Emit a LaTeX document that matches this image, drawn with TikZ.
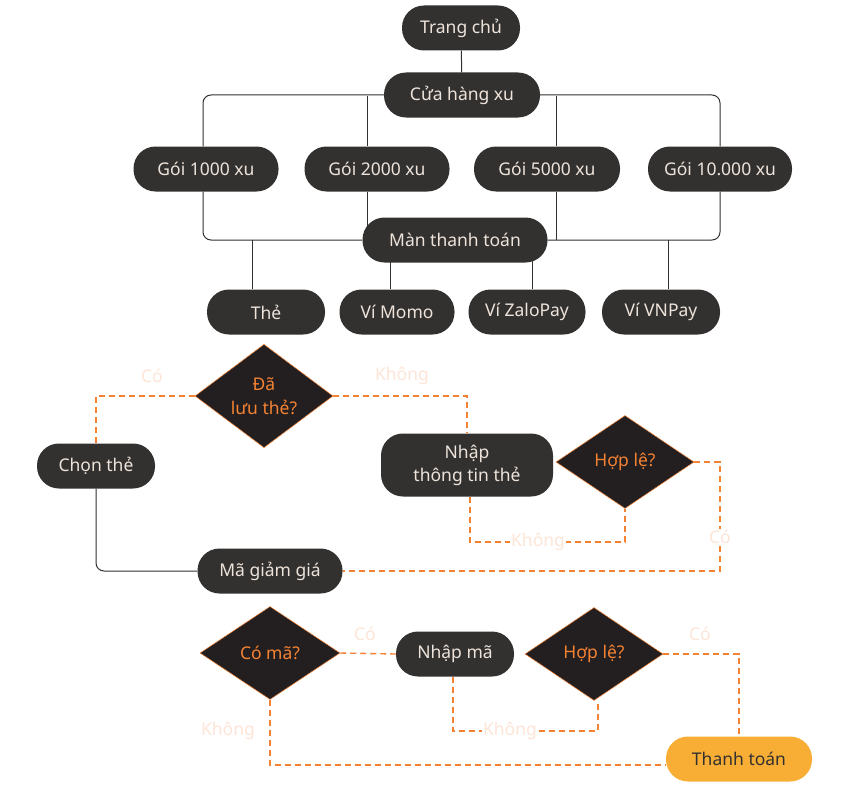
\documentclass[tikz,border=0pt]{standalone}
\usepackage{fontspec}
\setmainfont{Noto Sans}
\usetikzlibrary{shapes.geometric,backgrounds}
\definecolor{nodegray}{HTML}{333130}
\definecolor{diamfill}{HTML}{231F20}
\definecolor{textbeige}{HTML}{EDE3DA}
\definecolor{dashorange}{HTML}{F58233}
\definecolor{labelpeach}{HTML}{FDE5D8}
\definecolor{payyellow}{HTML}{F8AE35}
\begin{document}
\begin{tikzpicture}[x=1pt,y=-1pt,
  box/.style={rectangle,rounded corners=22pt,fill=nodegray,text=textbeige,
    minimum height=45pt,inner sep=0pt,align=center,font=\fontsize{17.5}{23}\selectfont},
  ask/.style={diamond,draw=dashorange,line width=0.5pt,fill=diamfill,text=dashorange,
    minimum width=138pt,minimum height=93pt,inner sep=0pt,align=center,font=\fontsize{17.5}{24}\selectfont},
  ans/.style={text=labelpeach,inner sep=1pt,font=\fontsize{17.5}{20}\selectfont},
  wire/.style={draw=nodegray,line width=1pt,rounded corners=8pt},
  choice/.style={draw=dashorange,line width=1.4pt,dash pattern=on 6pt off 4pt}]
\useasboundingbox (0,0) rectangle (850,789);
% top part
\node[box,minimum width=118pt] (trangchu) at (461,28) {Trang chủ};
\node[box,minimum width=156pt] (cuahang) at (462,95) {Cửa hàng xu};
\node[box,minimum width=145pt] (goi1) at (206,169) {Gói 1000 xu};
\node[box,minimum width=145pt] (goi2) at (377,169) {Gói 2000 xu};
\node[box,minimum width=146pt] (goi3) at (547,169) {Gói 5000 xu};
\node[box,minimum width=144pt] (goi4) at (720,169) {Gói 10.000 xu};
\node[box,minimum width=185pt] (manthanhtoan) at (455,240) {Màn thanh toán};
\node[box,minimum width=118pt] (the) at (266,312) {Thẻ};
\node[box,minimum width=115pt] (momo) at (397,312) {Ví Momo};
\node[box,minimum width=117pt] (zalo) at (527,312) {Ví ZaloPay};
\node[box,minimum width=118pt] (vnpay) at (661,312) {Ví VNPay};
% card part
\node[ask,minimum height=100pt] (daluu) at (264,396) {Đã\\lưu thẻ?};
\node[box,minimum width=118pt] (chonthe) at (96,466) {Chọn thẻ};
\node[box,minimum width=172pt,minimum height=63pt] (nhaptt) at (467,465) {Nhập\\thông tin thẻ};
\node[ask] (hople1) at (625,462) {Hợp lệ?};
\node[box,minimum width=145pt] (magiam) at (270,571) {Mã giảm giá};
% discount part
\node[ask,minimum width=140pt] (coma) at (270,653) {Có mã?};
\node[box,minimum width=118pt] (nhapma) at (455,654) {Nhập mã};
\node[ask] (hople2) at (594,654) {Hợp lệ?};
\node[box,minimum width=146pt,fill=payyellow,text=nodegray] (thanhtoan) at (739,759) {Thanh toán};
% branch points
\coordinate (b1) at (203,96);
\coordinate (b2) at (367,96);
\coordinate (b3) at (556,96);
\coordinate (c1) at (203,240);
\coordinate (c2) at (367,240);
\coordinate (c3) at (556,240);
\coordinate (p1) at (252,240);
\coordinate (p2) at (390,240);
\coordinate (p3) at (532,240);
\coordinate (p4) at (668,240);
\coordinate (k1) at (538,542);
\coordinate (k2) at (720,537);
\coordinate (k3) at (510,731);
\coordinate (k4) at (270,765);
\begin{scope}[on background layer]
\fill[white] (0,0) rectangle (850,789);
\draw[wire] (trangchu) -- (cuahang);
\draw[wire] (cuahang.west) -| (b1 |- goi1.north);
\draw[wire] (cuahang.east) -| (goi4.north);
\draw[wire] (b2) -- (b2 |- goi2.north);
\draw[wire] (b3) -- (b3 |- goi3.north);
\draw[wire] (c1 |- goi1.south) |- (manthanhtoan.west);
\draw[wire] (goi4.south) |- (manthanhtoan.east);
\draw[wire] (c2 |- goi2.south) -- (c2);
\draw[wire] (c3 |- goi3.south) -- (c3);
\draw[wire] (p1) -- (p1 |- the.north);
\draw[wire] (p2) -- (p2 |- momo.north);
\draw[wire] (p3) -- (p3 |- zalo.north);
\draw[wire] (p4) -- (p4 |- vnpay.north);
\draw[choice] (daluu.west) -| (chonthe.north);
\draw[choice] (daluu.east) -| (nhaptt.north);
\draw[wire] (chonthe.south) |- (magiam.west);
\draw[choice] ([xshift=3pt]nhaptt.south) |- (k1) -| (hople1.south);
\draw[choice] (hople1.east) -| (k2) |- (magiam.east);
\draw[choice] (coma.east) -- (nhapma.west);
\draw[choice] ([xshift=-2pt]nhapma.south) |- (k3) -| ([xshift=4pt]hople2.south);
\draw[choice] (hople2.east) -| (thanhtoan.north);
\draw[choice] (coma.south) -- (k4) -- (k4 -| thanhtoan.west);
\end{scope}
% answers
\node[ans] (co1) at (152,376) {Có};
\node[ans] (khong1) at (402,376) {Không};
\node[ans,fill=white] (khong2) at (k1) {Không};
\node[ans,fill=white] (co2) at (k2) {Có};
\node[ans] (co3) at (365,634) {Có};
\node[ans,fill=white] (khong3) at (k3) {Không};
\node[ans] (co4) at (700,634) {Có};
\node[ans] (khong4) at (228,731) {Không};
\end{tikzpicture}
\end{document}
